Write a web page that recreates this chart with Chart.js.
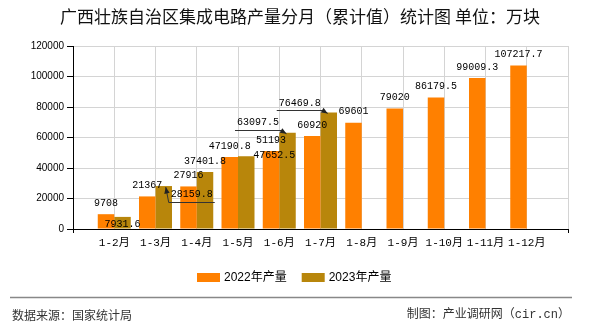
<!DOCTYPE html>
<html>
<head>
<meta charset="utf-8">
<script src="https://cdn.jsdelivr.net/npm/chart.js@4.4.0/dist/chart.umd.min.js"></script>
<style>
    body { margin: 0; background: #fff; }
    #wrap { width: 590px; height: 330px; position: relative; }
</style>
</head>
<body>
<div id="wrap"><canvas id="prodChart"></canvas></div>
<script>
// 广西集成电路产量（累计值），单位：万块
const months = ['1-2月', '1-3月', '1-4月', '1-5月', '1-6月', '1-7月', '1-8月', '1-9月', '1-10月', '1-11月', '1-12月'];
const output2022 = [9708, 21367, 27916, 47190.8, 51193, 60920, 69601, 79020, 86179.5, 99009.3, 107217.7];
const output2023 = [7931.6, 28159.8, 37401.8, 47652.5, 63097.5, 76469.8, null, null, null, null, null];
const yTicks = [0, 20000, 40000, 60000, 80000, 100000, 120000];
const seriesNames = ['2022年产量', '2023年产量'];
const seriesColors = ['#FF8000', '#B8860B'];

// the original pushed some 2023 labels aside to avoid overlap (callouts)
const nudge2023 = {
    0: { dx: 0, dy: 7 },
    1: { dx: 28, dy: 8, arrow: true },
    3: { dx: 28, dy: -1 },
    4: { dx: -29.5, dy: -10, arrow: true },
    5: { dx: -29, dy: -9.5, arrow: true }
};

// empty slot at both ends, like the original axis
const pad = arr => [null, ...arr, null];

function drawArrow(ctx, x1, y1, x2, y2) {
    const ang = Math.atan2(y2 - y1, x2 - x1);
    ctx.beginPath();
    ctx.moveTo(x1, y1);
    ctx.lineTo(x2, y2);
    ctx.stroke();
    ctx.beginPath();
    ctx.moveTo(x2, y2);
    ctx.lineTo(x2 - 7 * Math.cos(ang - 0.4), y2 - 7 * Math.sin(ang - 0.4));
    ctx.lineTo(x2 - 7 * Math.cos(ang + 0.4), y2 - 7 * Math.sin(ang + 0.4));
    ctx.closePath();
    ctx.fill();
}

const valueLabels = {
    id: 'valueLabels',
    afterDatasetsDraw(chart) {
        const ctx = chart.ctx;
        ctx.save();
        ctx.font = "10px 'Liberation Mono', monospace";
        ctx.strokeStyle = '#333';
        ctx.lineWidth = 1;
        ctx.textAlign = 'center';
        ctx.textBaseline = 'middle';
        chart.data.datasets.forEach((ds, di) => {
            const meta = chart.getDatasetMeta(di);
            meta.data.forEach((bar, i) => {
                const v = ds.data[i];
                if (v === null || v === undefined) return;
                const txt = String(v);
                let x = bar.x, y = bar.y - 11;
                const n = di === 1 ? nudge2023[i - 1] : null;
                if (n) {
                    x = bar.x + n.dx;
                    y = bar.y + n.dy;
                }
                ctx.fillStyle = '#000';
                ctx.fillText(txt, x, y);
                if (n && n.arrow) {
                    const w = ctx.measureText(txt).width;
                    const ly = Math.round(y + 7.5) + 0.5;
                    const left = x - w / 2 - 2, right = x + w / 2 + 2;
                    ctx.beginPath();
                    ctx.moveTo(left, ly);
                    ctx.lineTo(right, ly);
                    ctx.stroke();
                    ctx.fillStyle = '#222';
                    const sx = n.dx > 0 ? left : right;
                    drawArrow(ctx, sx, ly, bar.x + (n.dx > 0 ? 2 : -1), bar.y + 1);
                }
            });
        });
        ctx.restore();
    }
};

const chrome = {
    id: 'chrome',
    afterDraw(chart) {
        const ctx = chart.ctx;
        ctx.save();
        // title
        ctx.fillStyle = '#111';
        ctx.font = "17px 'Noto Sans CJK SC'";
        ctx.textAlign = 'center';
        ctx.textBaseline = 'middle';
        ctx.fillText('广西壮族自治区集成电路产量分月（累计值）统计图 单位：万块', 300, 17);

        // legend
        ctx.font = "12px 'Liberation Sans', 'Noto Sans CJK SC'";
        ctx.textAlign = 'left';
        let lx = 197;
        seriesNames.forEach((name, i) => {
            ctx.fillStyle = seriesColors[i];
            ctx.fillRect(lx, 273, 23, 9);
            ctx.fillStyle = '#000';
            ctx.fillText(name, lx + 27, 277.5);
            lx += 27 + ctx.measureText(name).width + 15;
        });

        // footer
        ctx.strokeStyle = '#888';
        ctx.lineWidth = 1.3;
        ctx.beginPath();
        ctx.moveTo(10, 297.5);
        ctx.lineTo(572, 297.5);
        ctx.stroke();
        ctx.fillStyle = '#333';
        ctx.font = "12px 'Noto Sans CJK SC'";
        ctx.fillText('数据来源：国家统计局', 12, 315);
        ctx.textAlign = 'right';
        ctx.font = "12px 'Liberation Mono', 'Noto Sans CJK SC'";
        ctx.fillText('制图：产业调研网（cir.cn）', 570, 315);
        ctx.restore();
    }
};

const ctx = document.getElementById('prodChart').getContext('2d');
new Chart(ctx, {
    type: 'bar',
    data: {
        labels: pad(months).map(m => m || ''),
        datasets: [{
            label: seriesNames[0],
            data: pad(output2022),
            backgroundColor: seriesColors[0],
        }, {
            label: seriesNames[1],
            data: pad(output2023),
            backgroundColor: seriesColors[1],
        }]
    },
    options: {
        responsive: true,
        maintainAspectRatio: false,
        animation: false,
        events: [],
        layout: { padding: { top: 46, right: 22, left: 0, bottom: 0 } },
        datasets: {
            bar: { categoryPercentage: 0.8, barPercentage: 1.0 }
        },
        plugins: {
            legend: { display: false },
            title: { display: false },
            tooltip: { enabled: false }
        },
        scales: {
            x: {
                offset: false,
                afterFit: s => { s.height = 101; },
                border: { color: '#000', width: 1 },
                grid: {
                    offset: false,
                    color: '#d4d4d4',
                    tickLength: 4,
                    tickColor: c => (c.index === 0 || c.index === months.length + 1) ? '#000' : 'rgba(0,0,0,0)'
                },
                ticks: {
                    autoSkip: false,
                    maxRotation: 0,
                    padding: 3,
                    color: '#000',
                    font: { family: "'Liberation Mono', 'Noto Sans CJK SC'", size: 11 }
                }
            },
            y: {
                min: yTicks[0],
                max: yTicks[yTicks.length - 1],
                afterFit: s => { s.width = 73; },
                border: { color: '#000', width: 1 },
                grid: { color: '#d4d4d4', tickColor: '#000', tickLength: 6 },
                ticks: {
                    stepSize: yTicks[1] - yTicks[0],
                    padding: 3,
                    color: '#000',
                    font: { family: "'Liberation Sans'", size: 10 },
                    callback: v => String(v)
                }
            }
        }
    },
    plugins: [valueLabels, chrome]
});
</script>
</body>
</html>
